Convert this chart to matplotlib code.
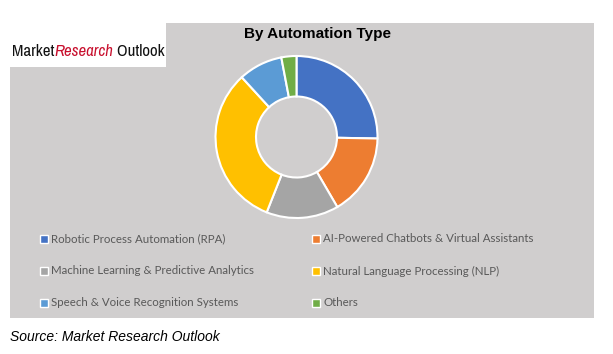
import matplotlib.pyplot as plt
from matplotlib import font_manager
from matplotlib.patches import Rectangle

labels = ['Robotic Process Automation (RPA)',
          'AI-Powered Chatbots & Virtual Assistants',
          'Machine Learning & Predictive Analytics',
          'Natural Language Processing (NLP)',
          'Speech & Voice Recognition Systems',
          'Others']
shares = [25.3, 16.3, 14.4, 32.2, 8.8, 3.0]
colors = ['#4472C4', '#ED7D31', '#A5A5A5', '#FFC000', '#5B9BD5', '#70AD47']

W, H = 613, 354
fig = plt.figure(figsize=(W / 100, H / 100), dpi=100)

def fx(px):
    return px / W

def fy(py):
    return 1 - py / H

# gray panel
fig.patches.append(Rectangle((fx(10), fy(318)), fx(594) - fx(10), fy(23) - fy(318),
                             transform=fig.transFigure, facecolor='#D0CECE', edgecolor='none', zorder=0))
# white logo box
fig.patches.append(Rectangle((0, fy(67)), fx(166), fy(0) - fy(67),
                             transform=fig.transFigure, facecolor='white', edgecolor='none', zorder=1))

# logo: use a narrow face if one is installed, then scale the whole thing to fit the box
narrow = [f.name for f in font_manager.fontManager.ttflist
          if 'Condensed' in f.name or 'Narrow' in f.name]
logo_font = narrow[0] if narrow else 'Liberation Sans'
renderer = fig.canvas.get_renderer()
pieces = [('Market', dict(family=logo_font, color='#111111')),
          ('Research', dict(family=logo_font, style='italic', color='#C8102E')),
          (' Outlook', dict(family=logo_font, color='#111111'))]
size = 16
texts = [fig.text(0, fy(56), w, fontsize=size, zorder=2, **kw) for w, kw in pieces]
total = sum(t.get_window_extent(renderer).width for t in texts)
size = size * 153 / total
x = 12
for t in texts:
    t.set_fontsize(size)
    t.set_x(fx(x))
    x += t.get_window_extent(renderer).width

fig.text(fx(318), fy(34), 'By Automation Type', family='Liberation Sans', fontweight='bold',
         fontsize=11, ha='center', va='center')

# donut
cx, cy, r = 296.5, 137, 81
ax = fig.add_axes([fx(cx - r), fy(cy + r), 2 * r / W, 2 * r / H], zorder=3)
ax.pie(shares, colors=colors, startangle=90, counterclock=False,
       wedgeprops=dict(width=0.5, edgecolor='white', linewidth=1.5))
ax.set_xlim(-1, 1)
ax.set_ylim(-1, 1)
ax.set_aspect('equal')
ax.axis('off')

# legend
col_x = [44, 316]
row_y = [239, 271, 303]
for i, (lab, c) in enumerate(zip(labels, colors)):
    x = col_x[i % 2]
    y = row_y[i // 2]
    fig.patches.append(Rectangle((fx(x - 4), fy(y + 4)), 8 / W, 8 / H, transform=fig.transFigure,
                                 facecolor=c, edgecolor='white', linewidth=1, zorder=2))
    fig.text(fx(x + 7), fy(y), lab, family='Lato', fontsize=8.3, color='#595959', va='center')

fig.text(fx(10), fy(337), 'Source: Market Research Outlook', family='Liberation Sans', style='italic',
         fontsize=10, va='center')

fig.savefig('out.png', dpi=100)
